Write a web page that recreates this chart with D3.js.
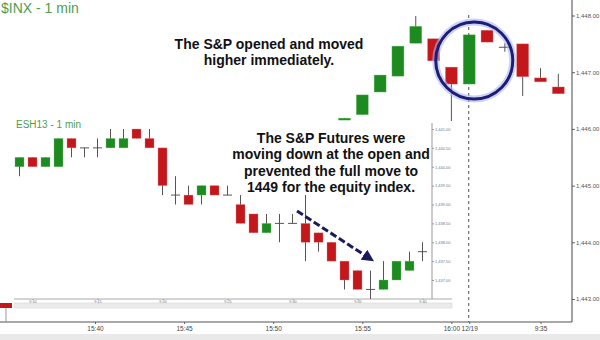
<!DOCTYPE html>
<html><head><meta charset="utf-8">
<script src="https://cdn.jsdelivr.net/npm/d3@7"></script>
<style>
html,body{margin:0;padding:0;background:#fff;}
svg{display:block;font-family:"Liberation Sans",Arial,sans-serif;}
</style>
</head><body>
<svg id="chart" width="600" height="340"></svg>
<script>
// ---------- $INX 1-min (main chart) ----------
const inxTime  = ["15:54","15:55","15:56","15:57","15:58","15:59","16:00","9:31","9:32","9:33","9:34","9:35","9:36"];
const inxOpen  = [1446.16,1446.25,1446.65,1446.93,1447.51,1447.59,1447.09,1446.79,1447.74,1447.44,1447.50,1446.90,1446.74];
const inxHigh  = [1446.19,1446.60,1446.95,1447.46,1447.99,1447.59,1447.09,1447.66,1447.74,1447.51,1447.50,1447.07,1446.97];
const inxLow   = [1446.16,1446.25,1446.65,1446.93,1447.51,1447.20,1446.14,1446.79,1447.53,1447.36,1446.58,1446.83,1446.62];
const inxClose = [1446.19,1446.60,1446.95,1447.46,1447.81,1447.20,1446.79,1447.66,1447.53,1447.44,1446.92,1446.83,1446.62];
const inxYTicks = [1448,1447,1446,1445,1444,1443];
const inxXTickTimes  = ["15:40","15:45","15:50","15:55","16:00","9:31","9:35"];
const inxXTickLabels = ["15:40","15:45","15:50","15:55","16:00","12/19","9:35"];

// ---------- ESH13 1-min (inset chart) ----------
const esTime  = ["9:09","9:10","9:11","9:12","9:13","9:14","9:15","9:16","9:17","9:18","9:19","9:20","9:21","9:22","9:23","9:24",
                 "9:25","9:26","9:27","9:28","9:29","9:30","9:31","9:32","9:33","9:34","9:35","9:36","9:37","9:38","9:39","9:40"];
const esOpen  = [1440.00,1440.25,1440.00,1440.00,1440.75,1440.50,1440.50,1440.50,1440.50,1441.00,1440.75,1440.50,1439.25,1439.25,1439.25,1439.50,
                 1439.25,1439.00,1438.75,1438.25,1438.50,1438.50,1438.50,1438.25,1438.00,1437.50,1437.25,1436.75,1436.75,1437.00,1437.25,1437.75];
const esHigh  = [1440.25,1440.25,1440.25,1440.75,1440.75,1440.50,1440.75,1441.00,1441.00,1441.00,1441.00,1440.50,1439.75,1439.50,1439.50,1439.50,
                 1439.50,1439.25,1438.75,1438.75,1438.75,1438.75,1439.25,1438.25,1438.00,1437.50,1437.25,1437.25,1437.50,1437.50,1437.75,1438.00];
const esLow   = [1439.75,1440.00,1440.00,1440.00,1440.25,1440.25,1440.25,1440.50,1440.50,1440.75,1440.50,1439.25,1439.00,1439.00,1439.00,1439.25,
                 1439.25,1438.50,1438.25,1438.25,1438.00,1438.50,1437.50,1437.75,1437.50,1436.75,1436.75,1436.50,1436.75,1437.00,1437.25,1437.50];
const esClose = [1440.25,1440.00,1440.25,1440.75,1440.50,1440.50,1440.50,1440.75,1440.75,1440.75,1440.50,1439.50,1439.25,1439.00,1439.50,1439.25,
                 1439.25,1438.50,1438.25,1438.50,1438.50,1438.50,1438.00,1438.00,1437.50,1437.00,1436.75,1436.75,1437.00,1437.50,1437.50,1437.75];
const esYTicks = [1441.0,1440.5,1440.0,1439.5,1439.0,1438.5,1438.0,1437.5,1437.0];
const esXTickTimes = ["9:10","9:15","9:20","9:25","9:30","9:35","9:40"];

// ---------- annotations ----------
const note1 = ["The S&P opened and moved", "higher immediately."];
const note2 = ["The S&P Futures were", "moving down at the open and", "prevented the full move to", "1449 for the equity index."];

const GREEN = "#1d8b1f", RED = "#c3171c", WICK = "#555";

const svg = d3.select("#chart");
svg.append("rect").attr("width",600).attr("height",340).attr("fill","#fff");

// minute sequences used as x domains
function minutes(h0,m0,h1,m1){const out=[];for(let t=h0*60+m0;t<=h1*60+m1;t++){out.push(Math.floor(t/60)+":"+String(t%60).padStart(2,"0"));}return out;}
const mainMinutes = minutes(15,30,16,0).concat(minutes(9,31,9,40));
const mIdx = t => mainMinutes.indexOf(t);

const xMain = d3.scaleLinear().domain([mIdx("15:40"), mIdx("9:35")]).range([95, 540.5]);
const yMain = d3.scaleLinear().domain([1448, 1443]).range([15.5, 299]);

const insetMinutes = minutes(9,5,9,45);
const iIdx = t => insetMinutes.indexOf(t);
const xIns = d3.scaleLinear().domain([iIdx("9:10"), iIdx("9:40")]).range([32.5, 422.5]);
const yIns = d3.scaleLinear().domain([1441, 1437]).range([129, 280]);

function candles(g, times, O, H, L, C, x, y, w){
  const data = times.map((t,i)=>({t, o:O[i], h:H[i], l:L[i], c:C[i]}));
  g.selectAll("line.wick").data(data).join("line").attr("class","wick")
    .attr("x1",d=>x(d.t)).attr("x2",d=>x(d.t))
    .attr("y1",d=>y(d.h)).attr("y2",d=>y(d.l))
    .attr("stroke",WICK).attr("stroke-width",1);
  g.selectAll("line.doji").data(data.filter(d=>d.o===d.c)).join("line").attr("class","doji")
    .attr("x1",d=>x(d.t)-w/2).attr("x2",d=>x(d.t)+w/2)
    .attr("y1",d=>y(d.o)).attr("y2",d=>y(d.o))
    .attr("stroke",WICK).attr("stroke-width",1);
  g.selectAll("rect.body").data(data.filter(d=>d.o!==d.c)).join("rect").attr("class","body")
    .attr("x",d=>x(d.t)-w/2).attr("width",w)
    .attr("y",d=>y(Math.max(d.o,d.c)))
    .attr("height",d=>Math.max(2, Math.abs(y(d.o)-y(d.c))))
    .attr("fill",d=>d.c>d.o?GREEN:RED)
    .attr("stroke",d=>d.c>d.o?"#7fc47f":"#e58a8c").attr("stroke-width",0.6).attr("stroke-opacity",0.6);
}

// ---------- main chart ----------
const gMain = svg.append("g");
// day-break dashed line
gMain.append("line")
  .attr("x1",xMain(mIdx("9:31"))-0.5).attr("x2",xMain(mIdx("9:31"))-0.5)
  .attr("y1",15).attr("y2",322)
  .attr("stroke","#555").attr("stroke-dasharray","3,3");

candles(gMain.append("g"), inxTime.map(mIdx), inxOpen, inxHigh, inxLow, inxClose, i=>xMain(i), yMain, 12);

// axes
const yAxisMain = d3.axisRight(yMain).tickValues(inxYTicks).tickFormat(d3.format(",.2f")).tickSize(3).tickPadding(1);
const gy = gMain.append("g").attr("transform","translate(572,0)").call(yAxisMain);
gy.select(".domain").remove();
gy.selectAll("text").attr("font-size",6).attr("fill","#555").attr("font-family","Liberation Sans, Arial");
gy.selectAll("line").attr("stroke","#666");
gMain.append("line").attr("x1",572).attr("x2",572).attr("y1",0).attr("y2",322).attr("stroke","#444");

const xAxisMain = d3.axisBottom(xMain).tickValues(inxXTickTimes.map(mIdx))
  .tickFormat((d,i)=>inxXTickLabels[i]).tickSize(2).tickPadding(2);
const gx = gMain.append("g").attr("transform","translate(0,322)").call(xAxisMain);
gx.select(".domain").remove();
gx.selectAll("text").attr("font-size",6.5).attr("fill","#444").attr("font-family","Liberation Sans, Arial");
gx.selectAll("line").attr("stroke","#666");
gMain.append("line").attr("x1",0).attr("x2",572).attr("y1",322).attr("y2",322).attr("stroke","#555");

// bottom scrollbar band
svg.append("rect").attr("x",0).attr("y",334).attr("width",600).attr("height",6).attr("fill","#e9e9e9");

// title
svg.append("text").attr("x",1).attr("y",13).attr("font-size",14).attr("fill","#4f9d4f").text("$INX - 1 min");

// ---------- inset chart ----------
const gIns = svg.append("g");
gIns.append("line").attr("x1",432).attr("x2",432).attr("y1",123).attr("y2",299).attr("stroke","#999");
gIns.append("line").attr("x1",14).attr("x2",452).attr("y1",299).attr("y2",299).attr("stroke","#aaa");
gIns.append("rect").attr("x",14).attr("y",303).attr("width",438).attr("height",5).attr("fill","#ececec").attr("stroke","#d0d0d0").attr("stroke-width",0.5);
gIns.append("rect").attr("x",0).attr("y",303).attr("width",12).attr("height",5).attr("fill","#c3171c");
gIns.append("line").attr("x1",6).attr("x2",6).attr("y1",308).attr("y2",322).attr("stroke","#999");

candles(gIns.append("g"), esTime.map(iIdx), esOpen, esHigh, esLow, esClose, i=>xIns(i), yIns, 9);

const yAxisIns = d3.axisRight(yIns).tickValues(esYTicks).tickFormat(d3.format(",.2f")).tickSize(2).tickPadding(1);
const giy = gIns.append("g").attr("transform","translate(432,0)").call(yAxisIns);
giy.select(".domain").remove();
giy.selectAll("text").attr("font-size",4).attr("fill","#777");
giy.selectAll("line").attr("stroke","#999");

const xAxisIns = d3.axisBottom(xIns).tickValues(esXTickTimes.map(iIdx)).tickFormat((d,i)=>esXTickTimes[i]).tickSize(1).tickPadding(0.5);
const gix = gIns.append("g").attr("transform","translate(0,299)").call(xAxisIns);
gix.select(".domain").remove();
gix.selectAll("text").attr("font-size",3.8).attr("fill","#777");
gix.selectAll("line").attr("stroke","#999");

gIns.append("text").attr("x",16).attr("y",128).attr("font-size",10).attr("fill","#4f9d4f").text("ESH13 - 1 min");

// ---------- annotations ----------
const t1 = svg.append("text").attr("text-anchor","middle").attr("font-size",14).attr("font-weight","bold").attr("fill","#111");
note1.forEach((s,i)=>t1.append("tspan").attr("x",269).attr("y",49+i*16).text(s));
const t2 = svg.append("text").attr("text-anchor","middle").attr("font-size",14).attr("font-weight","bold").attr("fill","#111");
note2.forEach((s,i)=>t2.append("tspan").attr("x",331).attr("y",143+i*16.4).text(s));

// circle highlight
const cx = xMain(mIdx("9:31"))+5, cy = 60.5;
svg.append("circle").attr("cx",cx).attr("cy",cy).attr("r",38.5).attr("fill","none").attr("stroke","#aeb4ec").attr("stroke-width",7).attr("stroke-opacity",0.6);
svg.append("circle").attr("cx",cx).attr("cy",cy).attr("r",38.5).attr("fill","none").attr("stroke","#1b1d78").attr("stroke-width",3);

// dashed arrow
const defs = svg.append("defs");
defs.append("marker").attr("id","ah").attr("viewBox","0 0 10 10").attr("refX",8).attr("refY",5)
  .attr("markerWidth",4).attr("markerHeight",4).attr("orient","auto")
  .append("path").attr("d","M0,0 L10,5 L0,10 z").attr("fill","#1a1a5e");
svg.append("line").attr("x1",297).attr("y1",211).attr("x2",372).attr("y2",260)
  .attr("stroke","#1a1a5e").attr("stroke-width",3).attr("stroke-dasharray","7,3").attr("marker-end","url(#ah)");
</script>
</body></html>
